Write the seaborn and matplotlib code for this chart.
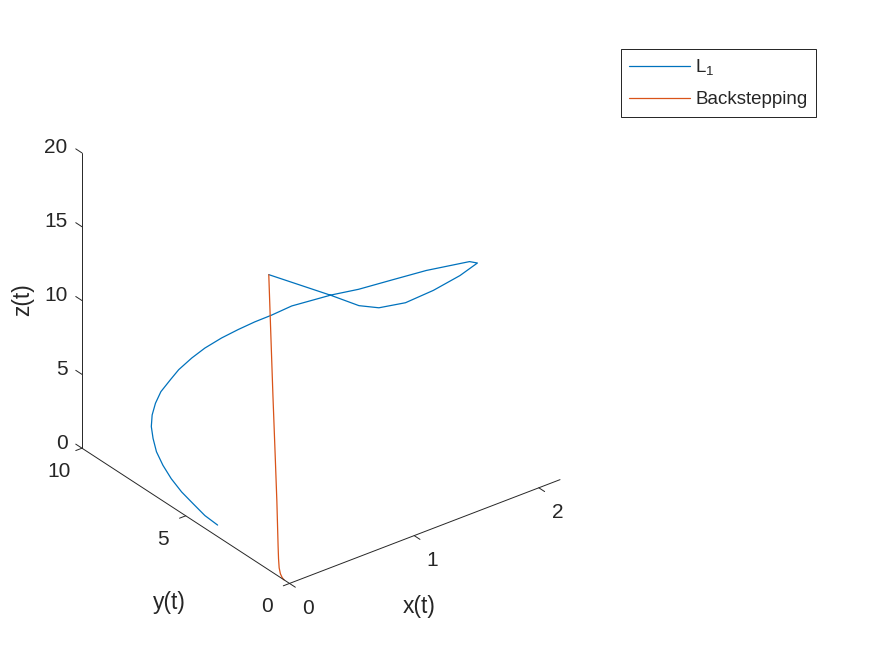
import matplotlib
matplotlib.use('Agg')
import matplotlib.pyplot as plt
import seaborn as sns
from mpl_toolkits.mplot3d import proj3d

# Trajectories (x(t), y(t), z(t))
l1_x = [0.00, 0.60, 0.89, 1.10, 1.38, 1.67, 1.95, 2.14, 2.11, 1.83, 1.63, 1.42, 1.25, 1.00,
        0.87, 0.77, 0.67, 0.57, 0.47, 0.39, 0.31, 0.26, 0.20, 0.16, 0.13, 0.115, 0.104, 0.098,
        0.10, 0.10, 0.10, 0.093, 0.087, 0.089]
l1_y = [1.00, 1.60, 2.00, 2.30, 2.70, 3.10, 3.50, 3.80, 4.00, 4.40, 4.80, 5.20, 5.50, 5.90,
        6.10, 6.30, 6.50, 6.70, 6.90, 7.05, 7.20, 7.30, 7.40, 7.42, 7.40, 7.35, 7.20, 7.00,
        6.70, 6.30, 5.80, 5.20, 4.60, 4.00]
l1_z = [20.0, 16.10, 14.10, 13.00, 12.07, 11.60, 11.33, 11.29, 11.30, 11.24, 10.90, 10.56, 10.45, 10.15,
        9.76, 9.45, 9.07, 8.64, 8.10, 7.55, 6.88, 6.27, 5.56, 4.89, 4.21, 3.52, 2.89, 2.19,
        1.54, 1.00, 0.56, 0.33, 0.10, 0.00]

bs_x = [0.0, 0.0, 0.0, 0.0, 0.0, 0.0, 0.0, 0.0, 0.0, 0.0, 0.0, 0.0, 0.0]
bs_y = [1.00, 0.90, 0.80, 0.69, 0.61, 0.57, 0.55, 0.53, 0.50, 0.44, 0.36, 0.30, 0.26]
bs_z = [20.0, 16.0, 12.0, 8.0, 5.0, 3.0, 2.0, 1.2, 0.6, 0.25, 0.08, 0.02, 0.0]

x_lim = (0, 2.17)
y_lim = (0, 10)
z_lim = (0, 20)
x_ticks = [0, 1, 2]
y_ticks = [0, 5, 10]
z_ticks = [0, 5, 10, 15, 20]
series_labels = [r'$\mathregular{L_1}$', 'Backstepping']
series_colors = ['#0072BD', '#D95319']

sns.set_style('white')
plt.rcParams['font.family'] = ['Liberation Sans', 'DejaVu Sans']
plt.rcParams['mathtext.fontset'] = 'custom'
plt.rcParams['mathtext.rm'] = 'Liberation Sans'
plt.rcParams['mathtext.it'] = 'Liberation Sans:italic'

pal = sns.color_palette(series_colors)
fig = plt.figure(figsize=(8.75, 6.56), dpi=100)
ax = fig.add_axes([0.0304, 0.0691, 0.6552, 0.8739], projection='3d')
ax.set_proj_type('ortho')
ax.view_init(elev=30, azim=-127.5)
ax.set_box_aspect((1, 1, 1))
ax.computed_zorder = False
ax.set_axis_off()

h1, = ax.plot(l1_x, l1_y, l1_z, color=pal[0], lw=0.9)
h2, = ax.plot(bs_x, bs_y, bs_z, color=pal[1], lw=0.9)

ax.set_xlim(*x_lim)
ax.set_ylim(*y_lim)
ax.set_zlim(*z_lim)
M = ax.get_proj()


def label3d(x, y, z, s, **kw):
    # place a flat 2D label at the projected 3D point
    px, py, _ = proj3d.proj_transform(x, y, z, M)
    ax.text2D(px, py, s, transform=ax.transData, fontsize=15, **kw)


# MATLAB-like axis lines: x and y along the front floor edges, z at the left corner
ak = dict(color='#262626', lw=0.7)
ax.plot(x_lim, [y_lim[0]] * 2, [z_lim[0]] * 2, **ak)
ax.plot([x_lim[0]] * 2, y_lim, [z_lim[0]] * 2, **ak)
ax.plot([x_lim[0]] * 2, [y_lim[1]] * 2, z_lim, **ak)

for t in x_ticks:
    ax.plot([t, t], [y_lim[0], y_lim[0] - 0.28], [z_lim[0]] * 2, **ak)
    label3d(t, y_lim[0] - 0.89, z_lim[0] - 0.86, str(t), ha='center', va='center')
for t in y_ticks:
    ax.plot([x_lim[0], x_lim[0] - 0.05], [t, t], [z_lim[0]] * 2, **ak)
    label3d(x_lim[0] - 0.18, t, z_lim[0] - 1.0, str(t), ha='center', va='center')
for t in z_ticks:
    ax.plot([x_lim[0]] * 2, [y_lim[1], y_lim[1] + 0.3], [t, t], **ak)
    label3d(x_lim[0], y_lim[1] + 0.7, t - 0.3, str(t), ha='right', va='center')

ax.set_xlim(*x_lim)
ax.set_ylim(*y_lim)
ax.set_zlim(*z_lim)

fig.text(419 / 875, 1 - 607 / 656, 'x(t)', ha='center', va='center', fontsize=16.5)
fig.text(169 / 875, 1 - 602 / 656, 'y(t)', ha='center', va='center', fontsize=16.5)
fig.text(23 / 875, 1 - 300 / 656, 'z(t)', ha='center', va='center', fontsize=16.5, rotation=90)

leg = fig.legend(handles=[h1, h2], labels=series_labels, loc='upper left',
                 bbox_to_anchor=(621 / 875, 1 - 49 / 656), frameon=True, fancybox=False,
                 edgecolor='black', framealpha=1, fontsize=13.5, handlelength=3.25,
                 handletextpad=0.25, borderpad=0.45, labelspacing=0.72, borderaxespad=0)
leg.get_frame().set_linewidth(0.6)

fig.savefig('out.png', dpi=100)
